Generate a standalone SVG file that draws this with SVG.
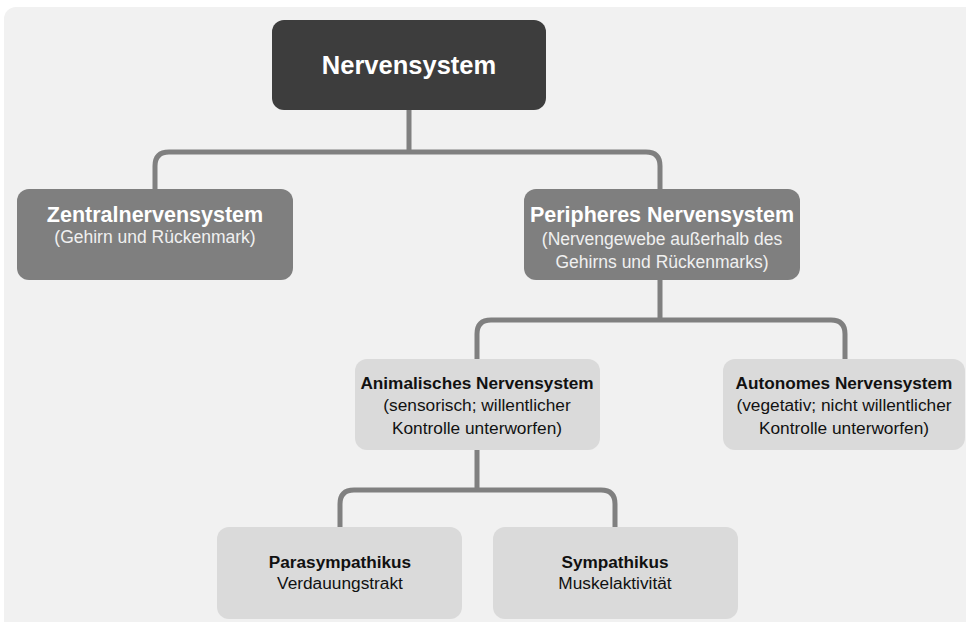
<svg xmlns="http://www.w3.org/2000/svg" width="966" height="622" viewBox="0 0 966 622">
<style>
.bg{fill:#f1f1f1}
.dark{fill:#3d3d3d}
.mid{fill:#7f7f7f}
.light{fill:#dadada}
.t{font-family:"Liberation Sans",Arial,sans-serif;text-anchor:middle}
.h1{font-size:25.5px;font-weight:bold;fill:#ffffff}
.h2{font-size:21.5px;font-weight:bold;fill:#ffffff}
.s2{font-size:17.5px;fill:#f0f0f0}
.h3{font-size:17.2px;font-weight:bold;fill:#111111}
.s3{font-size:17.3px;fill:#111111}
.c{fill:none;stroke:#808080;stroke-width:5;stroke-linejoin:round}
</style>
<rect x="0" y="0" width="966" height="622" fill="#ffffff"/>
<rect class="bg" x="4" y="7" width="980" height="640" rx="12"/>
<g id="connectors">
<path class="c" d="M409 110 V152 M155 190 V166 Q155 152 169 152 H646 Q660 152 660 166 V190"/>
<path class="c" d="M660 280 V320 M477 360 V334 Q477 320 491 320 H831 Q845 320 845 334 V360"/>
<path class="c" d="M477 450 V490 M340 528 V504 Q340 490 354 490 H601 Q615 490 615 504 V528"/>
</g>
<g id="nervensystem">
<rect class="dark" x="272" y="20" width="274" height="90" rx="12"/>
<text class="t h1" x="409" y="74">Nervensystem</text>
</g>
<g id="zentral">
<rect class="mid" x="17" y="189" width="276" height="91" rx="12"/>
<text class="t h2" x="155" y="222">Zentralnervensystem</text>
<text class="t s2" x="155" y="243">(Gehirn und Rückenmark)</text>
</g>
<g id="peripher">
<rect class="mid" x="524" y="189" width="276" height="91" rx="12"/>
<text class="t h2" x="662" y="222">Peripheres Nervensystem</text>
<text class="t s2" x="662" y="245">(Nervengewebe außerhalb des</text>
<text class="t s2" x="662" y="268">Gehirns und Rückenmarks)</text>
</g>
<g id="animalisch">
<rect class="light" x="355" y="359" width="245" height="91" rx="12"/>
<text class="t h3" x="477" y="389">Animalisches Nervensystem</text>
<text class="t s3" x="477" y="411">(sensorisch; willentlicher</text>
<text class="t s3" x="477" y="434">Kontrolle unterworfen)</text>
</g>
<g id="autonom">
<rect class="light" x="723" y="359" width="242" height="91" rx="12"/>
<text class="t h3" x="844" y="389">Autonomes Nervensystem</text>
<text class="t s3" x="844" y="411">(vegetativ; nicht willentlicher</text>
<text class="t s3" x="844" y="434">Kontrolle unterworfen)</text>
</g>
<g id="parasympathikus">
<rect class="light" x="217" y="527" width="245" height="92" rx="12"/>
<text class="t h3" x="340" y="568">Parasympathikus</text>
<text class="t s3" x="340" y="589">Verdauungstrakt</text>
</g>
<g id="sympathikus">
<rect class="light" x="493" y="527" width="245" height="92" rx="12"/>
<text class="t h3" x="615" y="568">Sympathikus</text>
<text class="t s3" x="615" y="589">Muskelaktivität</text>
</g>
</svg>
